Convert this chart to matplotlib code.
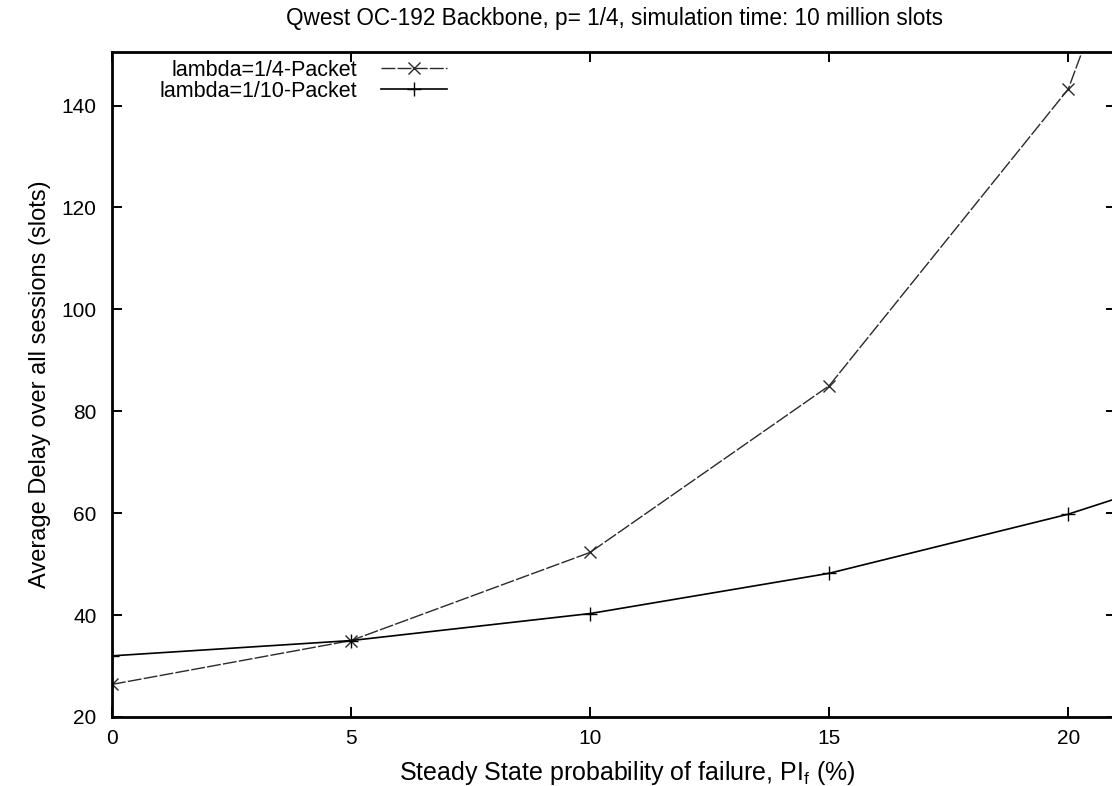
import numpy as np
import matplotlib.pyplot as plt

plt.rcParams['font.family'] = ['Liberation Sans', 'DejaVu Sans']
plt.rcParams['mathtext.fontset'] = 'custom'
plt.rcParams['mathtext.rm'] = 'Liberation Sans'

# failure probability (%) and average delay (slots) for both arrival rates
fail_prob = [0, 5, 10, 15, 20, 25]
delay_quarter = [26.4, 35.0, 52.3, 85.0, 143.2, 270.0]
delay_tenth = [32.0, 35.0, 40.3, 48.2, 59.8, 75.0]

x_ticks = [0, 5, 10, 15, 20]
y_ticks = [20, 40, 60, 80, 100, 120, 140]

fig = plt.figure(figsize=(11.12, 7.86), dpi=100)
ax = fig.add_axes([112/1112, 1 - 717/786, 1004/1112, 665/786])

ax.plot(fail_prob, delay_quarter, color='#2a2a2a', lw=1.0, ls=(0, (10, 1.6)),
        marker='x', ms=8, mew=1.0, label='lambda=1/4-Packet')
ax.plot(fail_prob, delay_tenth, color='black', lw=1.2,
        marker='+', ms=10, mew=1.0, label='lambda=1/10-Packet')

ax.set_xlim(0, 21)
ax.set_ylim(20, 150.5)
ax.set_xticks(x_ticks)
ax.set_yticks(y_ticks)
ax.tick_params(direction='in', top=True, right=True, length=7, width=1.4,
               labelsize=15)
ax.tick_params(axis='y', pad=11)
ax.tick_params(axis='x', pad=9)
for s in ax.spines.values():
    s.set_linewidth(2.0)

ax.set_xlabel(r'Steady State probability of failure, PI$_{\rm f}$ (%)', fontsize=18)
ax.xaxis.set_label_coords(0.513, -0.063)
ax.set_ylabel('Average Delay over all sessions (slots)', fontsize=17, va='center')
ax.yaxis.set_label_coords(-0.072, 0.5)

fig.text(0.553, 1 - 18/786, 'Qwest OC-192 Backbone, p= 1/4, simulation time: 10 million slots',
         ha='center', va='center', fontsize=16.3)

ax.legend(loc='upper right', bbox_to_anchor=(0.334, 0.988), markerfirst=False,
          frameon=False, fontsize=15.5, handlelength=3.1, handletextpad=1.07,
          labelspacing=0.0, borderpad=0, borderaxespad=0)

fig.savefig('out.png', dpi=100)
